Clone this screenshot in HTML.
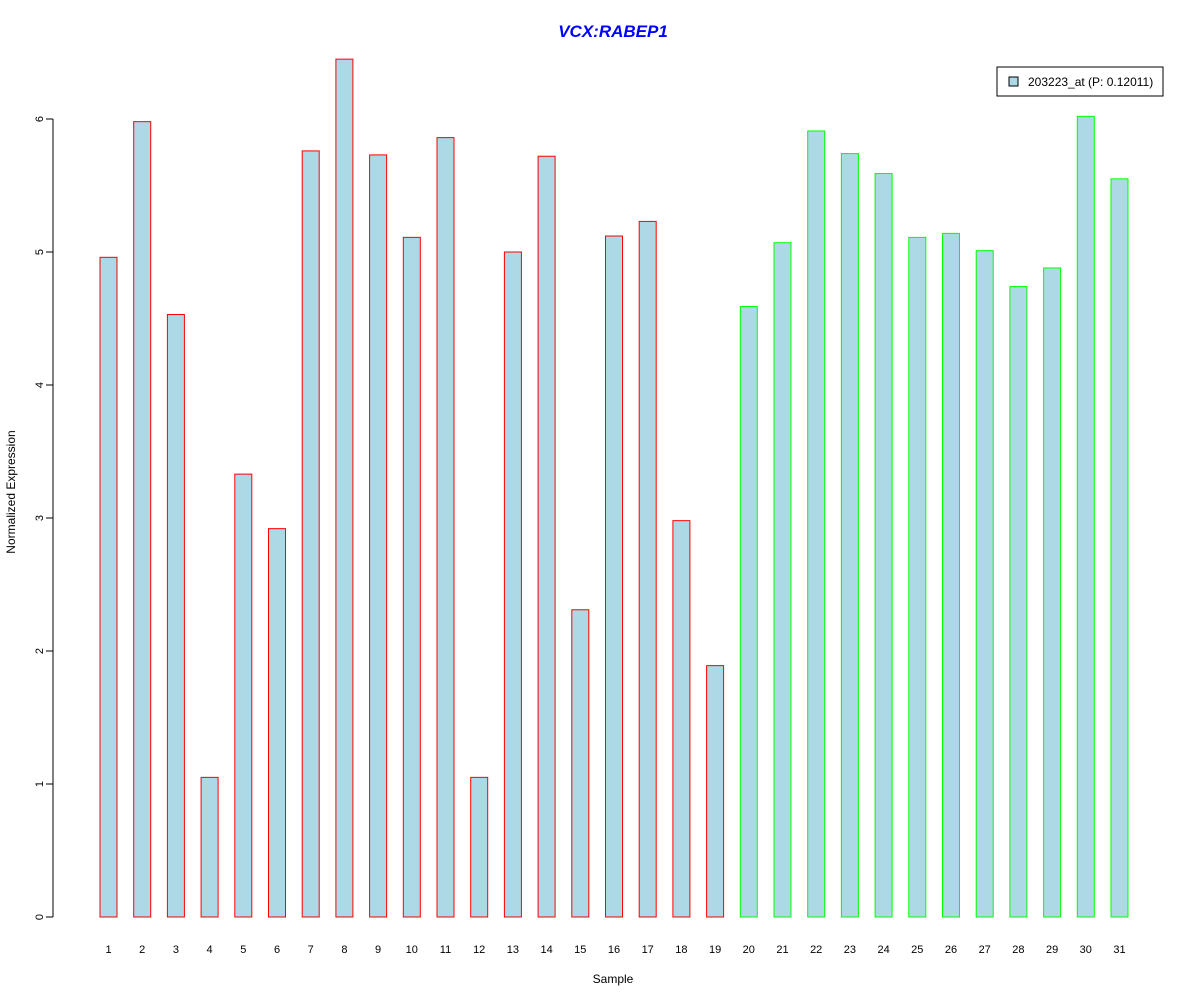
<!DOCTYPE html>
<html><head><meta charset="utf-8"><style>
body{margin:0;background:#fff;}
svg{display:block;font-family:"Liberation Sans",Arial,sans-serif;}
</style></head><body>
<svg id="chart" width="1200" height="1000">
<text x="613" y="37" text-anchor="middle" font-size="17" font-weight="bold" font-style="italic" fill="#0000ff">VCX:RABEP1</text>
<text x="613" y="983" text-anchor="middle" font-size="12">Sample</text>
<text transform="translate(15,492) rotate(-90)" text-anchor="middle" font-size="12">Normalized Expression</text>
<g id="yaxis"></g>
<g id="bars"></g>
<g id="xlabels"></g>
<g>
<rect x="997" y="67" width="166" height="29" fill="#fff" stroke="#000"/>
<rect x="1009" y="77" width="9" height="9" fill="#add8e6" stroke="#000"/>
<text x="1028" y="86" font-size="12">203223_at (P: 0.12011)</text>
</g>
</svg>
<script>
const categories=["1","2","3","4","5","6","7","8","9","10","11","12","13","14","15","16","17","18","19","20","21","22","23","24","25","26","27","28","29","30","31"];
const values=[4.96,5.98,4.53,1.05,3.33,2.92,5.76,6.45,5.73,5.11,5.86,1.05,5.0,5.72,2.31,5.12,5.23,2.98,1.89,4.59,5.07,5.91,5.74,5.59,5.11,5.14,5.01,4.74,4.88,6.02,5.55];
const groups=["a","a","a","a","a","a","a","a","a","a","a","a","a","a","a","a","a","a","a","b","b","b","b","b","b","b","b","b","b","b","b"];
const yTicks=[0,1,2,3,4,5,6];
const NS="http://www.w3.org/2000/svg";
const y=v=>917-v*133;
const x=i=>108.5+i*33.7;
const yA=document.getElementById('yaxis');
function mk(t,a,p){const e=document.createElementNS(NS,t);for(const k in a)e.setAttribute(k,a[k]);p.appendChild(e);return e;}
const al=mk('line',{x1:53,x2:53,y1:y(yTicks[yTicks.length-1]),y2:y(0),stroke:'#000'},yA);


yTicks.forEach(t=>{
 const l=mk('line',{x1:46,x2:53,y1:y(t),y2:y(t),stroke:'#000'},yA);
 
 
 const tx=mk('text',{transform:`translate(43,${y(t)}) rotate(-90)`,'text-anchor':'middle','font-size':11},yA);
 tx.textContent=t;
 
 
});
const bG=document.getElementById('bars'),xG=document.getElementById('xlabels');
values.forEach((v,i)=>{
 const r=mk('rect',{x:x(i)-8.5,y:y(v),width:17,height:y(0)-y(v),fill:'#add8e6',stroke:groups[i]==='a'?'#ff0000':'#00ff00'},bG);
 
 
 const t=mk('text',{x:x(i),y:953,'text-anchor':'middle','font-size':11},xG);
 t.textContent=categories[i];
 
 
});
</script>
</body></html>
